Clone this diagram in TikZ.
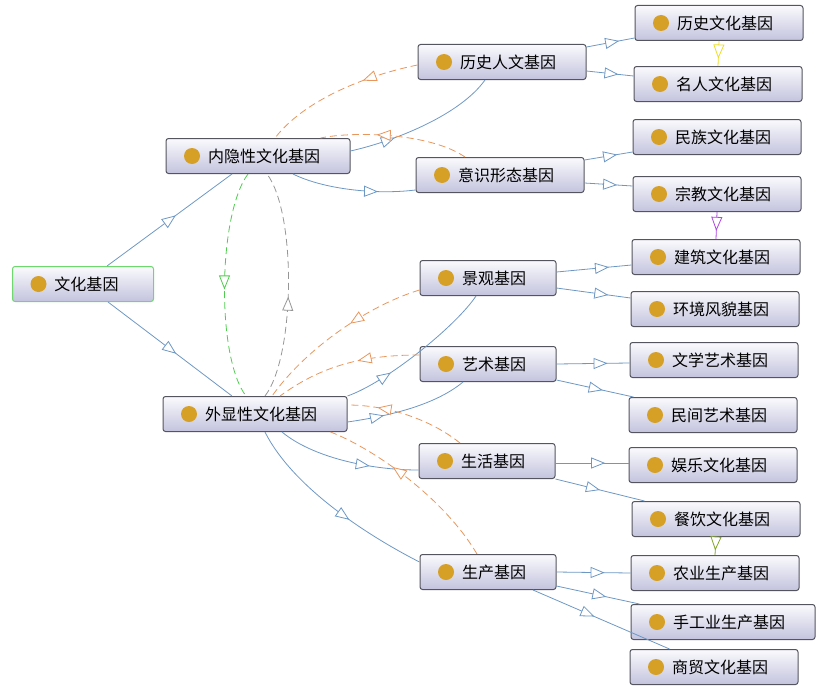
\documentclass[tikz,border=0pt]{standalone}
\usepackage{fontspec}
\newfontfamily\cjk{Noto Sans CJK SC}
\usetikzlibrary{arrows.meta}
\usetikzlibrary{decorations.markings}

\definecolor{genetop}{RGB}{250,250,253}
\definecolor{genebot}{RGB}{195,195,222}
\definecolor{geneline}{RGB}{85,85,95}
\definecolor{rootline}{RGB}{110,215,110}
\definecolor{genedot}{RGB}{214,160,38}
\definecolor{linkblue}{RGB}{110,152,196}
\definecolor{backorange}{RGB}{232,150,92}
\definecolor{backgreen}{RGB}{80,205,80}
\definecolor{backgray}{RGB}{150,150,150}
\definecolor{nextyellow}{RGB}{238,222,40}
\definecolor{nextpurple}{RGB}{175,70,225}
\definecolor{nextolive}{RGB}{130,165,40}

\begin{document}
\begin{tikzpicture}[x=1pt, y=-1pt,
  gene/.style={draw=geneline, line width=1pt, rounded corners=2.5pt,
    top color=genetop, bottom color=genebot, text width=#1, inner xsep=0pt,
    minimum height=35pt, align=left, font=\cjk\fontsize{16}{18}\selectfont,
    execute at begin node={\hspace*{42pt}},
    path picture={\fill[genedot] ([xshift=26pt]path picture bounding box.west) circle (8pt);}},
  gene/.default=168pt,
  midtip/.style={postaction={decorate}, decoration={markings,
    mark=at position #1 with {\arrow{Triangle[length=14pt, width=11pt, fill=white]}}}},
  link/.style={color=linkblue, line width=0.8pt, midtip=#1},
  link/.default=0.55,
  back/.style={line width=0.8pt, dash pattern=on 7pt off 4pt, midtip=#1},
  back/.default=0.5]
  \useasboundingbox (0,0) rectangle (826,693);

  \node[gene=141pt, draw=rootline] (root) at (83,284) {文化基因};
  \node[gene=184pt] (inner) at (258,156) {内隐性文化基因};
  \node[gene=184pt] (outer) at (255,414) {外显性文化基因};

  \node[gene] (hist) at (502,62) {历史人文基因};
  \node[gene] (ideo) at (500,175) {意识形态基因};
  \node[gene=136pt] (land) at (488,278) {景观基因};
  \node[gene=136pt] (art) at (488,364) {艺术基因};
  \node[gene=136pt] (life) at (487,461) {生活基因};
  \node[gene=136pt] (prod) at (488,572) {生产基因};

  \node[gene] (hcul) at (719,23) {历史文化基因};
  \node[gene] (celeb) at (718,84) {名人文化基因};
  \node[gene] (ethn) at (717,137) {民族文化基因};
  \node[gene] (relig) at (717,194) {宗教文化基因};
  \node[gene] (arch) at (716,257) {建筑文化基因};
  \node[gene] (envi) at (715,309) {环境风貌基因};
  \node[gene] (lit) at (714,360) {文学艺术基因};
  \node[gene] (folk) at (713,415) {民间艺术基因};
  \node[gene] (ent) at (713,465) {娱乐文化基因};
  \node[gene] (food) at (716,519) {餐饮文化基因};
  \node[gene] (agri) at (715,573) {农业生产基因};
  \node[gene=184pt] (craft) at (723,622) {手工业生产基因};
  \node[gene] (trade) at (714,667) {商贸文化基因};

  \draw[link] ([xshift=24pt]root.north) -- ([xshift=-26pt]inner.south);
  \draw[link] ([xshift=25pt]root.south) -- ([xshift=-23pt]outer.north);

  \draw[link=0.3] ([yshift=5pt]inner.east) .. controls (395,141) and (460,115) .. ([xshift=-17pt]hist.south);
  \draw[link=0.7] ([xshift=35pt]inner.south) .. controls (323,189) and (375,195) .. ([yshift=-15pt]ideo.west);
  \draw[link=0.3] (outer.north east) .. controls (387,382) and (456,326) .. ([xshift=-12pt]land.south);
  \draw[link=0.3] ([yshift=-8pt]outer.east) .. controls (382,417) and (433,407) .. ([xshift=-25pt]art.south);
  \draw[link=0.66] ([xshift=27pt]outer.south) .. controls (312,457) and (369,470) .. ([yshift=-9pt]life.west);
  \draw[link=0.6] ([xshift=10pt]outer.south) .. controls (295,492) and (380,542) .. ([yshift=10pt]prod.west);

  \draw[link=0.68] ([yshift=15pt]hist.east) -- ([yshift=-15pt]hcul.west);
  \draw[link=0.68] ([yshift=-9pt]hist.east) -- ([yshift=8pt]celeb.west);
  \draw[link=0.68] ([yshift=15pt]ideo.east) -- ([yshift=-15pt]ethn.west);
  \draw[link=0.68] ([yshift=-8pt]ideo.east) -- ([yshift=8pt]relig.west);
  \draw[link=0.7] ([yshift=6pt]land.east) -- ([yshift=-8pt]arch.west);
  \draw[link=0.7] ([yshift=-10pt]land.east) -- ([yshift=11pt]envi.west);
  \draw[link=0.7] (art.east) -- ([yshift=-3pt]lit.west);
  \draw[link=0.6] ([yshift=-16pt]art.east) -- ([xshift=5pt]folk.north west);
  \draw[link=0.68] ([yshift=-2pt]life.east) -- ([yshift=2pt]ent.west);
  \draw[link=0.5] (life.south east) -- ([xshift=13pt]food.north west);
  \draw[link=0.65] (prod.east) -- (agri.west);
  \draw[link=0.6] ([yshift=-14pt]prod.east) -- ([xshift=9pt]craft.north west);
  \draw[link=0.45] ([xshift=45pt]prod.south) -- ([xshift=40pt]trade.north west);

  \draw[nextyellow, line width=0.8pt, midtip=0.7] (hcul.south) -- (celeb.north);
  \draw[nextpurple, line width=0.8pt, midtip=0.7] (relig.south) -- (arch.north);
  \draw[nextolive, line width=0.8pt, midtip=0.75] (food.south) -- (agri.north);

  \draw[back=0.52, backgreen] ([xshift=-10pt]inner.south) .. controls (218,214) and (216,357) .. ([xshift=-9pt]outer.north);
  \draw[back=0.45, backgray] ([xshift=10pt]outer.north) .. controls (295,357) and (297,214) .. ([xshift=9pt]inner.south);

  \draw[back=0.35, backorange] ([yshift=-3pt]hist.west) .. controls (368,75) and (305,99) .. ([xshift=17pt]inner.north);
  \draw[back=0.62, backorange] ([xshift=-35pt]ideo.north) .. controls (430,133) and (355,131) .. ([xshift=-30pt]inner.north east);
  \draw[back=0.42, backorange] ([yshift=-12pt]land.west) .. controls (370,305) and (307,347) .. ([xshift=17pt]outer.north);
  \draw[back=0.42, backorange] ([yshift=9pt]art.west) .. controls (360,355) and (320,367) .. ([xshift=25pt]outer.north);
  \draw[back=0.75, backorange] ([xshift=-27pt]life.north) .. controls (430,419) and (387,405) .. ([yshift=9pt]outer.east);
  \draw[back=0.63, backorange] ([xshift=-11pt]prod.north) .. controls (442,495) and (370,447) .. ([xshift=-17pt]outer.south east);
\end{tikzpicture}
\end{document}
